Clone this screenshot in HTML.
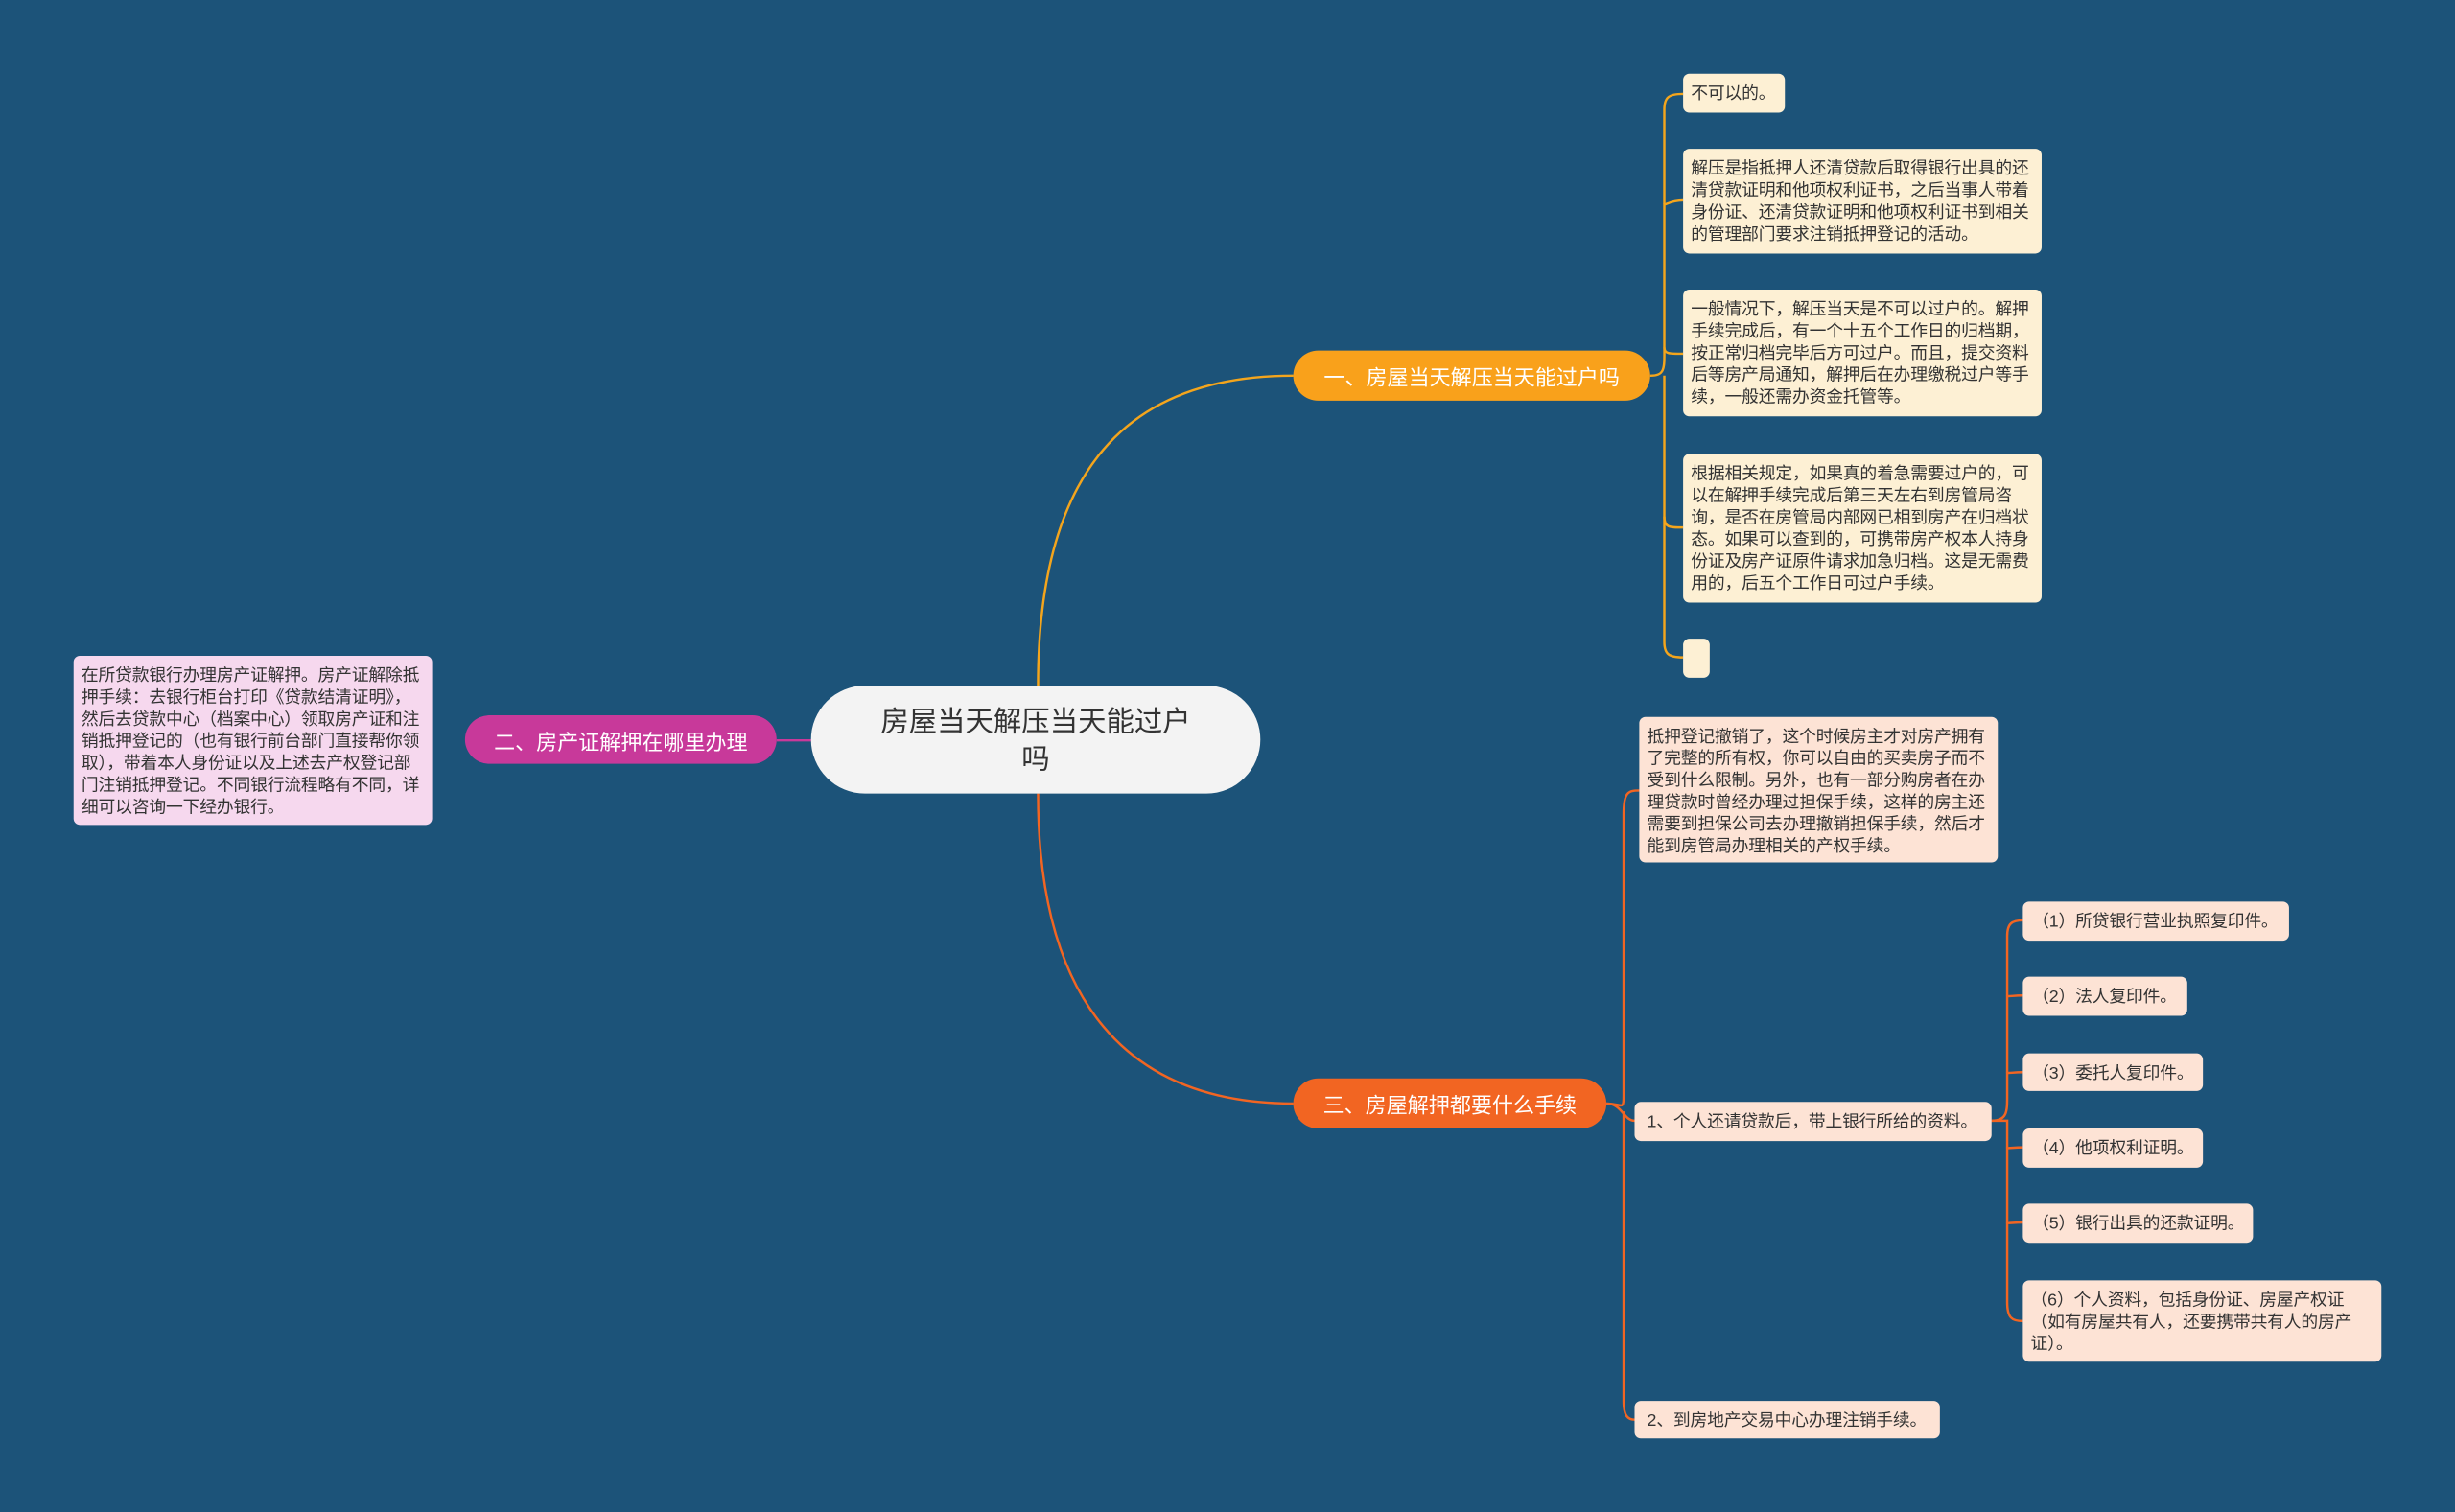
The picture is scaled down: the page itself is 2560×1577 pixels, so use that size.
<!DOCTYPE html>
<html><head><meta charset="utf-8"><style>
html,body{margin:0;padding:0;width:2560px;height:1577px;overflow:hidden;background:#1c5379;}
#w{position:absolute;left:0;top:0;width:1568px;height:966px;transform:scale(1.63265,1.63251);transform-origin:0 0;font-family:"Liberation Sans","Noto Sans CJK SC",sans-serif;}
.n{position:absolute;box-sizing:border-box;border-radius:4px;font-size:10.9px;line-height:14px;color:#333;padding:6px 4px 5px 5px;letter-spacing:-0.1px;}
.y{background:#fdf0d4;}
.p{background:#fde3d5;}
.k{background:#f6d8ee;}
.b{position:absolute;box-sizing:border-box;border-radius:16px;color:#fff;font-size:13.5px;display:flex;align-items:center;justify-content:center;}
svg{position:absolute;left:0;top:0;}
</style></head><body><div id="w">
<svg width="1568" height="966" fill="none" stroke-width="1.5">
<path d="M663 438 C663 300 720 240 826 240" stroke="#f4a51c"/>
<path d="M663 507 C663 640 720 705 826 705" stroke="#f26522"/>
<path d="M496 473 L518 473" stroke="#c8399a"/>
<g stroke="#f4a51c">
<path d="M1054 240 C1064 240 1063 235 1063 220 L1063 70 C1063 62 1066 60 1075 60"/>
<path d="M1063 130 C1063 132 1066 128 1075 128"/>
<path d="M1063 222 C1063 226 1066 226 1075 226"/>
<path d="M1063 240 L1063 330 C1063 337 1066 337 1075 337"/>
<path d="M1063 330 L1063 410 C1063 418 1066 420 1075 420"/>
</g>
<g stroke="#f26522">
<path d="M1026 705 C1036 705 1037 710 1037 700 L1037 520 C1037 506 1040 505 1047 505"/>
<path d="M1026 705 C1036 705 1037 716 1044 716"/>
<path d="M1037 710 L1037 895 C1037 905 1040 907 1044 907"/>
<path d="M1272 716 C1282 716 1282 710 1282 700 L1282 598 C1282 590 1285 588 1292 588"/>
<path d="M1282 636 C1282 637 1285 636 1292 636"/>
<path d="M1282 685 C1282 686 1285 685 1292 685"/>
<path d="M1272 716 L1282 716 L1282 832 C1282 842 1285 844 1292 844"/>
<path d="M1282 733 C1282 734 1285 733 1292 733"/>
<path d="M1282 781 C1282 782 1285 781 1292 781"/>
</g>
</svg>
<div class="b" style="left:518px;top:438px;width:287px;height:69px;border-radius:35px;background:#f3f3f3;color:#333;font-size:18px;line-height:24px;text-align:center;padding:0 40px;">房屋当天解压当天能过户吗</div>
<div class="b" style="left:826px;top:224px;width:228px;height:32px;background:#f9a11b;">一、房屋当天解压当天能过户吗</div>
<div class="b" style="left:297px;top:457px;width:199px;height:31px;background:#c8399a;">二、房产证解押在哪里办理</div>
<div class="b" style="left:826px;top:689px;width:200px;height:32px;background:#f26522;">三、房屋解押都要什么手续</div>

<div class="n y" style="left:1075px;top:47px;width:65px;height:25px;">不可以的。</div>
<div class="n y" style="left:1075px;top:95px;width:229px;height:67px;">解压是指抵押人还清贷款后取得银行出具的还清贷款证明和他项权利证书，之后当事人带着身份证、还清贷款证明和他项权利证书到相关的管理部门要求注销抵押登记的活动。</div>
<div class="n y" style="left:1075px;top:185px;width:229px;height:81px;">一般情况下，解压当天是不可以过户的。解押手续完成后，有一个十五个工作日的归档期，按正常归档完毕后方可过户。而且，提交资料后等房产局通知，解押后在办理缴税过户等手续，一般还需办资金托管等。</div>
<div class="n y" style="left:1075px;top:290px;width:229px;height:95px;">根据相关规定，如果真的着急需要过户的，可以在解押手续完成后第三天左右到房管局咨询，是否在房管局内部网已相到房产在归档状态。如果可以查到的，可携带房产权本人持身份证及房产证原件请求加急归档。这是无需费用的，后五个工作日可过户手续。</div>
<div class="n y" style="left:1075px;top:408px;width:17px;height:25px;"></div>

<div class="n k" style="left:47px;top:419px;width:229px;height:108px;">在所贷款银行办理房产证解押。房产证解除抵押手续：去银行柜台打印《贷款结清证明》，然后去贷款中心（档案中心）领取房产证和注销抵押登记的（也有银行前台部门直接帮你领取），带着本人身份证以及上述去产权登记部门注销抵押登记。不同银行流程略有不同，详细可以咨询一下经办银行。</div>

<div class="n p" style="left:1047px;top:458px;width:229px;height:93px;">抵押登记撤销了，这个时候房主才对房产拥有了完整的所有权，你可以自由的买卖房子而不受到什么限制。另外，也有一部分购房者在办理贷款时曾经办理过担保手续，这样的房主还需要到担保公司去办理撤销担保手续，然后才能到房管局办理相关的产权手续。</div>
<div class="n p" style="left:1044px;top:704px;width:228px;height:25px;padding-left:8px;">1、个人还请贷款后，带上银行所给的资料。</div>
<div class="n p" style="left:1044px;top:895px;width:195px;height:24px;padding-left:8px;">2、到房地产交易中心办理注销手续。</div>
<div class="n p" style="left:1292px;top:576px;width:170px;height:25px;padding-left:6px;">（1）所贷银行营业执照复印件。</div>
<div class="n p" style="left:1292px;top:624px;width:105px;height:25px;padding-left:6px;">（2）法人复印件。</div>
<div class="n p" style="left:1292px;top:673px;width:115px;height:24px;padding-left:6px;">（3）委托人复印件。</div>
<div class="n p" style="left:1292px;top:721px;width:115px;height:25px;padding-left:6px;">（4）他项权利证明。</div>
<div class="n p" style="left:1292px;top:769px;width:147px;height:25px;padding-left:6px;">（5）银行出具的还款证明。</div>
<div class="n p" style="left:1292px;top:818px;width:229px;height:52px;">（6）个人资料，包括身份证、房屋产权证（如有房屋共有人，还要携带共有人的房产证）。</div>
</div></body></html>
